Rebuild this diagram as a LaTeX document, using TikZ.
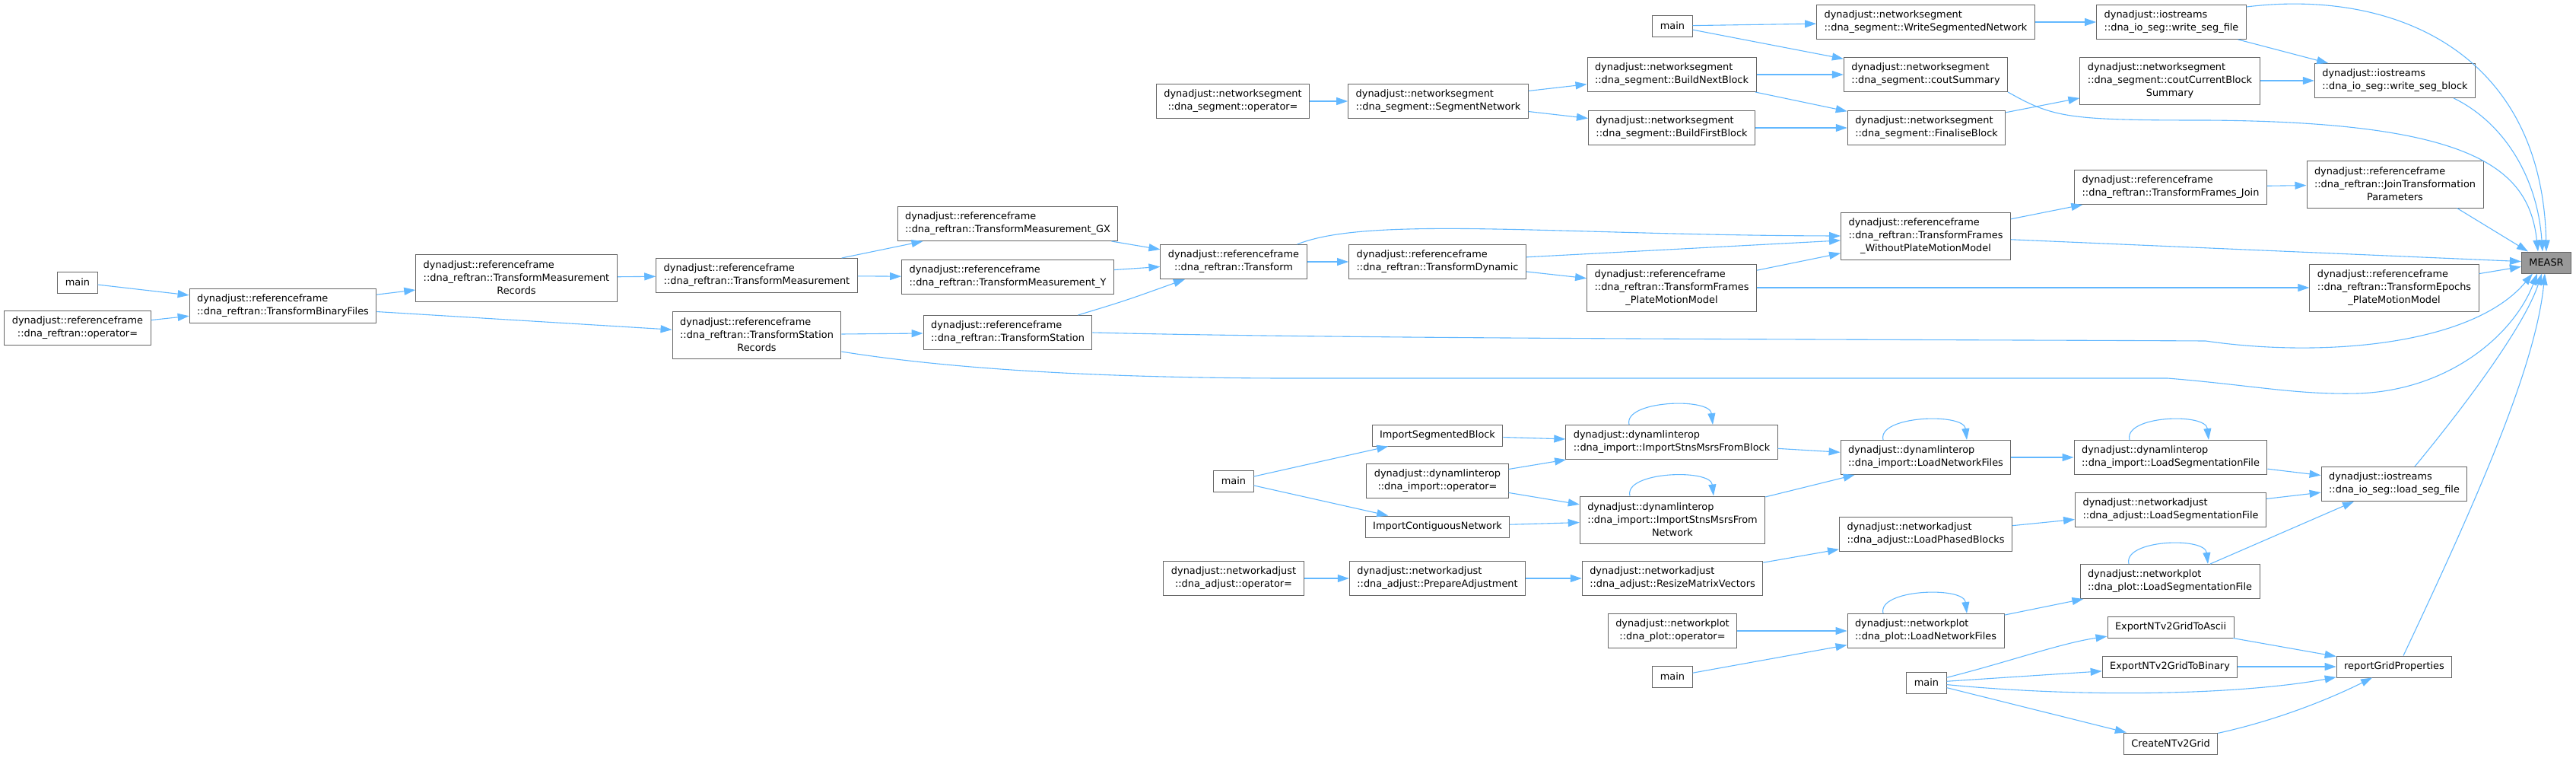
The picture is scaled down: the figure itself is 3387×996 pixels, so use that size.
\documentclass[tikz,border=0pt]{standalone}
\usepackage{fontspec}
\usetikzlibrary{arrows.meta}
\newfontfamily\dotfont{DejaVu Sans}
\definecolor{boxline}{HTML}{666666}
\definecolor{measrfill}{HTML}{999999}
\definecolor{callline}{HTML}{63B8FF}
\tikzset{
  fn/.style={draw=boxline, line width=1pt, fill=white, inner xsep=10pt, inner ysep=2pt, minimum height=28pt, align=left, font=\dotfont\fontsize{12.9pt}{17pt}\selectfont},
  fn2/.style={fn, minimum height=45pt},
  fn3/.style={fn, minimum height=62pt},
  call/.style={draw=callline, line width=1.1pt, -{Triangle[length=15pt,width=10pt]}}
}
\begin{document}
\begin{tikzpicture}[x=1pt, y=-1pt]
\useasboundingbox (0,0) rectangle (3387,996);
\node[fn] (mainA) at (102,371) {main};
\node[fn2] (refOp) at (102,431) {dynadjust::referenceframe\\ \hfil ::dna\_reftran::operator=};
\node[fn2] (binFiles) at (372,402) {dynadjust::referenceframe\\ \hfil ::dna\_reftran::TransformBinaryFiles};
\node[fn3] (measRecords) at (679,365) {dynadjust::referenceframe\\::dna\_reftran::TransformMeasurement\\ \hfil Records};
\node[fn2] (measure) at (995,362) {dynadjust::referenceframe\\ \hfil ::dna\_reftran::TransformMeasurement};
\node[fn3] (staRecords) at (995,440) {dynadjust::referenceframe\\::dna\_reftran::TransformStation\\ \hfil Records};
\node[fn2] (measGX) at (1325,294) {dynadjust::referenceframe\\ \hfil ::dna\_reftran::TransformMeasurement\_GX};
\node[fn2] (measY) at (1325,364) {dynadjust::referenceframe\\ \hfil ::dna\_reftran::TransformMeasurement\_Y};
\node[fn2] (station) at (1325,437) {dynadjust::referenceframe\\ \hfil ::dna\_reftran::TransformStation};
\node[fn2] (segOp) at (1621,133) {dynadjust::networksegment\\ \hfil ::dna\_segment::operator=};
\node[fn2] (transform) at (1622,344) {dynadjust::referenceframe\\ \hfil ::dna\_reftran::Transform};
\node[fn] (mainB) at (1622,632) {main};
\node[fn2] (adjOp) at (1622,760) {dynadjust::networkadjust\\ \hfil ::dna\_adjust::operator=};
\node[fn2] (segNet) at (1891,133) {dynadjust::networksegment\\ \hfil ::dna\_segment::SegmentNetwork};
\node[fn2] (dynamic) at (1890,344) {dynadjust::referenceframe\\ \hfil ::dna\_reftran::TransformDynamic};
\node[fn] (impSeg) at (1890,572) {ImportSegmentedBlock};
\node[fn2] (impOp) at (1890,632) {dynadjust::dynamlinterop\\ \hfil ::dna\_import::operator=};
\node[fn] (impCont) at (1890,692) {ImportContiguousNetwork};
\node[fn2] (prepAdj) at (1890,760) {dynadjust::networkadjust\\ \hfil ::dna\_adjust::PrepareAdjustment};
\node[fn] (mainC) at (2199,34) {main};
\node[fn2] (nextBlock) at (2198,98) {dynadjust::networksegment\\ \hfil ::dna\_segment::BuildNextBlock};
\node[fn2] (firstBlock) at (2198,168) {dynadjust::networksegment\\ \hfil ::dna\_segment::BuildFirstBlock};
\node[fn3] (framesPMM) at (2198,378) {dynadjust::referenceframe\\::dna\_reftran::TransformFrames\\ \hfil \_PlateMotionModel};
\node[fn2] (fromBlock) at (2198,581) {dynadjust::dynamlinterop\\ \hfil ::dna\_import::ImportStnsMsrsFromBlock};
\node[fn3] (fromNet) at (2199,683) {dynadjust::dynamlinterop\\::dna\_import::ImportStnsMsrsFrom\\ \hfil Network};
\node[fn2] (resize) at (2199,760) {dynadjust::networkadjust\\ \hfil ::dna\_adjust::ResizeMatrixVectors};
\node[fn2] (plotOp) at (2199,829) {dynadjust::networkplot\\ \hfil ::dna\_plot::operator=};
\node[fn] (mainD) at (2199,889) {main};
\node[fn2] (writeNet) at (2532,29) {dynadjust::networksegment\\ \hfil ::dna\_segment::WriteSegmentedNetwork};
\node[fn2] (coutSum) at (2532,98) {dynadjust::networksegment\\ \hfil ::dna\_segment::coutSummary};
\node[fn2] (finalise) at (2533,168) {dynadjust::networksegment\\ \hfil ::dna\_segment::FinaliseBlock};
\node[fn3] (withoutPMM) at (2532,310) {dynadjust::referenceframe\\::dna\_reftran::TransformFrames\\ \hfil \_WithoutPlateMotionModel};
\node[fn2] (impLoadNet) at (2532,601) {dynadjust::dynamlinterop\\ \hfil ::dna\_import::LoadNetworkFiles};
\node[fn2] (phased) at (2532,702) {dynadjust::networkadjust\\ \hfil ::dna\_adjust::LoadPhasedBlocks};
\node[fn2] (plotLoadNet) at (2532,829) {dynadjust::networkplot\\ \hfil ::dna\_plot::LoadNetworkFiles};
\node[fn] (mainE) at (2533,897) {main};
\node[fn2] (writeFile) at (2855,29) {dynadjust::iostreams\\ \hfil ::dna\_io\_seg::write\_seg\_file};
\node[fn3] (coutBlock) at (2853,106) {dynadjust::networksegment\\::dna\_segment::coutCurrentBlock\\ \hfil Summary};
\node[fn2] (framesJoin) at (2854,246) {dynadjust::referenceframe\\ \hfil ::dna\_reftran::TransformFrames\_Join};
\node[fn2] (impLoadSeg) at (2854,601) {dynadjust::dynamlinterop\\ \hfil ::dna\_import::LoadSegmentationFile};
\node[fn2] (adjLoadSeg) at (2854,670) {dynadjust::networkadjust\\ \hfil ::dna\_adjust::LoadSegmentationFile};
\node[fn2] (plotLoadSeg) at (2853,764) {dynadjust::networkplot\\ \hfil ::dna\_plot::LoadSegmentationFile};
\node[fn] (toAscii) at (2854,824) {ExportNTv2GridToAscii};
\node[fn] (toBinary) at (2853,876) {ExportNTv2GridToBinary};
\node[fn] (createGrid) at (2854,977) {CreateNTv2Grid};
\node[fn2] (writeBlock) at (3149,106) {dynadjust::iostreams\\ \hfil ::dna\_io\_seg::write\_seg\_block};
\node[fn3] (joinParams) at (3149,242) {dynadjust::referenceframe\\::dna\_reftran::JoinTransformation\\ \hfil Parameters};
\node[fn3] (epochsPMM) at (3148,378) {dynadjust::referenceframe\\::dna\_reftran::TransformEpochs\\ \hfil \_PlateMotionModel};
\node[fn2] (loadFile) at (3148,636) {dynadjust::iostreams\\ \hfil ::dna\_io\_seg::load\_seg\_file};
\node[fn] (report) at (3148,876) {reportGridProperties};
\node[fn, fill=measrfill] (measr) at (3348,345) {MEASR};
\draw[call] (mainA) -- (binFiles);
\draw[call] (refOp) -- (binFiles);
\draw[call] (binFiles) -- (measRecords);
\draw[call] (binFiles) -- (staRecords);
\draw[call] (measRecords) -- (measure);
\draw[call] (measure) -- (measGX);
\draw[call] (measure) -- (measY);
\draw[call] (measGX) -- (transform);
\draw[call] (measY) -- (transform);
\draw[call] (staRecords) -- (station);
\draw[call] ([xshift=-19pt]station.north east) .. controls (1480,395) .. (transform);
\draw[call] (transform) -- (dynamic);
\draw[call] ([xshift=-13pt]transform.north east) .. controls (1800,283) and (2050,309) .. (withoutPMM.west);
\draw[call] (dynamic) -- (withoutPMM);
\draw[call] (dynamic) -- (framesPMM);
\draw[call] (framesPMM) -- (withoutPMM);
\draw[call] (framesPMM) -- (epochsPMM);
\draw[call] (withoutPMM) -- (framesJoin);
\draw[call] (framesJoin) -- (joinParams);
\draw[call] (withoutPMM) -- (measr);
\draw[call] (epochsPMM) -- (measr);
\draw[call] ([xshift=-35pt]joinParams.south east) -- ([xshift=-24pt]measr.north);
\draw[call] (station.east) .. controls (1800,446) and (2550,446) .. (2900,448) .. controls (3050,470) and (3250,455) .. ([xshift=-18pt]measr.south);
\draw[call] ([yshift=-22pt]staRecords.east) .. controls (1250,485) and (1450,497) .. (1700,497) -- (2850,497) .. controls (2960,506) and (3020,519) .. (3100,517) .. controls (3220,513) and (3305,440) .. ([xshift=-12pt]measr.south);
\draw[call] (segOp) -- (segNet);
\draw[call] (segNet) -- (nextBlock);
\draw[call] (segNet) -- (firstBlock);
\draw[call] (mainC) -- (writeNet);
\draw[call] (mainC) -- (coutSum);
\draw[call] (nextBlock) -- (coutSum);
\draw[call] (nextBlock) -- (finalise);
\draw[call] (firstBlock) -- (finalise);
\draw[call] (writeNet) -- (writeFile);
\draw[call] (finalise) -- (coutBlock);
\draw[call] (coutBlock) -- (writeBlock);
\draw[call] (writeFile) -- (writeBlock);
\draw[call] ([yshift=-3pt]writeFile.north east) .. controls (3150,-15) and (3342,70) .. (measr.north);
\draw[call] ([xshift=-29pt]writeBlock.south east) .. controls (3290,160) and (3336,230) .. ([xshift=-5pt]measr.north);
\draw[call] (coutSum.south east) .. controls (2700,155) and (2720,158) .. (2900,158) .. controls (3250,160) and (3325,220) .. ([xshift=-11pt]measr.north);
\draw[call] (mainB) -- (impSeg);
\draw[call] (mainB) -- (impCont);
\draw[call] (impSeg) -- (fromBlock);
\draw[call] (impOp) -- (fromBlock);
\draw[call] (impOp) -- (fromNet);
\draw[call] (impCont) -- (fromNet);
\draw[call] ([xshift=-56pt]fromBlock.north) .. controls +(-8,-32) and +(-4,-36) .. ([xshift=54pt]fromBlock.north);
\draw[call] ([xshift=-56pt]fromNet.north) .. controls +(-8,-32) and +(-4,-36) .. ([xshift=54pt]fromNet.north);
\draw[call] (fromBlock) -- (impLoadNet);
\draw[call] (fromNet) -- (impLoadNet);
\draw[call] ([xshift=-56pt]impLoadNet.north) .. controls +(-8,-32) and +(-4,-36) .. ([xshift=54pt]impLoadNet.north);
\draw[call] (impLoadNet) -- (impLoadSeg);
\draw[call] ([xshift=-54pt]impLoadSeg.north) .. controls +(-8,-32) and +(-4,-36) .. ([xshift=50pt]impLoadSeg.north);
\draw[call] (impLoadSeg) -- (loadFile);
\draw[call] (adjOp) -- (prepAdj);
\draw[call] (prepAdj) -- (resize);
\draw[call] (resize) -- (phased);
\draw[call] (phased) -- (adjLoadSeg);
\draw[call] (adjLoadSeg) -- (loadFile);
\draw[call] (plotOp) -- (plotLoadNet);
\draw[call] (mainD) -- (plotLoadNet);
\draw[call] ([xshift=-56pt]plotLoadNet.north) .. controls +(-8,-32) and +(-4,-36) .. ([xshift=54pt]plotLoadNet.north);
\draw[call] (plotLoadNet) -- (plotLoadSeg);
\draw[call] ([xshift=-54pt]plotLoadSeg.north) .. controls +(-8,-32) and +(-4,-36) .. ([xshift=50pt]plotLoadSeg.north);
\draw[call] (plotLoadSeg) -- (loadFile);
\draw[call] ([xshift=27pt]loadFile.north) .. controls (3260,510) and (3322,420) .. ([xshift=-6pt]measr.south);
\draw[call] (mainE) .. controls (2640,870) and (2710,845) .. (toAscii);
\draw[call] (mainE) -- (toBinary);
\draw[call] (mainE) .. controls (2750,918) and (2950,912) .. (report);
\draw[call] (mainE) -- (createGrid);
\draw[call] (toAscii) -- (report);
\draw[call] (toBinary) -- (report);
\draw[call] (createGrid) .. controls (3000,945) and (3070,915) .. (report);
\draw[call] ([xshift=12pt]report.north) .. controls (3260,650) and (3334,480) .. ([xshift=-2pt]measr.south);
\end{tikzpicture}
\end{document}
